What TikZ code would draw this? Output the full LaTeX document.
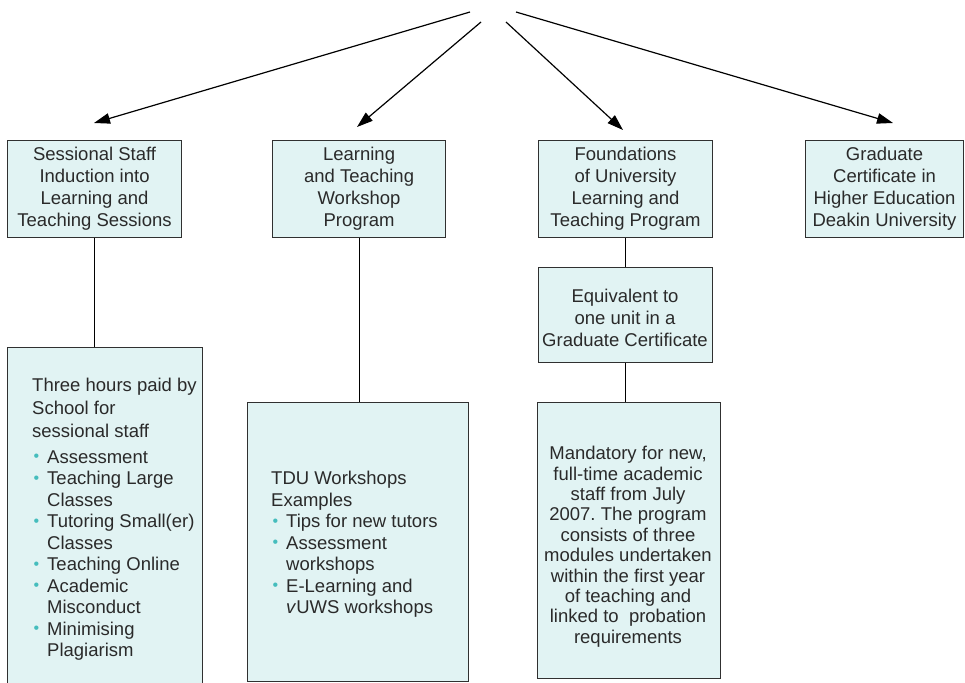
\documentclass[tikz,border=0pt]{standalone}
\usepackage{fontspec}
\setmainfont{Liberation Sans}
\usetikzlibrary{arrows.meta}
\definecolor{boxfill}{HTML}{E1F3F3}
\definecolor{boxline}{HTML}{303030}
\definecolor{txtc}{HTML}{2A2A2A}
\definecolor{bulc}{HTML}{45BDBD}
\frenchspacing
\newcommand\bul{\makebox[15pt][l]{\hspace{1.5pt}\textcolor{bulc}{\fontsize{16}{16}\selectfont\raisebox{1.2pt}{•}}}}
\newcommand\ind{\hspace*{15pt}}
\begin{document}
\begin{tikzpicture}[x=1pt,y=-1pt,
  box/.style={draw=boxline, fill=boxfill, line width=1.1pt, anchor=north west, inner sep=0pt,
    text=txtc, align=center, font=\fontsize{18.5}{22}\selectfont},
  txt/.style={inner sep=0pt, text=txtc, font=\fontsize{18.5}{21.5}\selectfont},
  arr/.style={line width=1.2pt, -{Triangle[length=16pt,width=10.5pt]}},
  conn/.style={line width=1pt, draw=black}]
\useasboundingbox (0,0) rectangle (965,682);
% top boxes
\node[box, minimum width=174pt, minimum height=97pt] (b1) at (7,140)
  {Sessional Staff\\Induction into\\Learning and\\Teaching Sessions};
\node[box, minimum width=173pt, minimum height=97pt] (b2) at (272,140)
  {Learning\\and Teaching\\Workshop\\Program};
\node[box, minimum width=174pt, minimum height=97pt] (b3) at (538,140)
  {Foundations\\of University\\Learning and\\Teaching Program};
\node[box, minimum width=158pt, minimum height=97pt] (b4) at (805,140)
  {Graduate\\Certificate in\\Higher Education\\Deakin University};
% equivalent box
\node[box, minimum width=174pt, minimum height=95pt] (eq) at (538,267) {};
\node[txt, align=center, anchor=north, font=\fontsize{18.5}{22}\selectfont] (eqt) at (625,289)
  {Equivalent to\\one unit in a\\Graduate Certificate};
% lower boxes
\node[box, minimum width=195pt, minimum height=350pt] (l1) at (7,347) {};
\node[box, minimum width=221pt, minimum height=279pt] (l2) at (247,402) {};
\node[box, minimum width=183pt, minimum height=276pt] (l3) at (537,402) {};
\node[txt, align=left, anchor=north west] (l1t) at (32,378)
  {Three hours paid by\\[1.5pt]
   School for\\[1.5pt]
   sessional staff\\[4pt]
   \bul Assessment\\
   \bul Teaching Large\\
   \ind Classes\\
   \bul Tutoring Small(er)\\
   \ind Classes\\
   \bul Teaching Online\\
   \bul Academic\\
   \ind Misconduct\\
   \bul Minimising\\
   \ind Plagiarism};
\node[txt, align=left, anchor=north west] (l2t) at (271,471)
  {TDU Workshops\\
   Examples\\
   \bul Tips for new tutors\\
   \bul Assessment\\
   \ind workshops\\
   \bul E-Learning and\\
   \ind \textit{v}UWS workshops};
\node[txt, align=center, anchor=north, font=\fontsize{18.5}{20.4}\selectfont] (l3t) at (628,446)
  {Mandatory for new,\\
   full-time academic\\
   staff from July\\
   2007. The program\\
   consists of three\\
   modules undertaken\\
   within the first year\\
   of teaching and\\
   linked to\ \ probation\\
   requirements};
% connectors
\draw[conn] (b1.south) -- (b1.south |- l1.north);
\draw[conn] (b2.south) -- (b2.south |- l2.north);
\draw[conn] (b3.south) -- (eq.north);
\draw[conn] (eq.south) -- (eq.south |- l3.north);
% arrows
\coordinate (s1) at (470,12);
\coordinate (s2) at (481,22);
\coordinate (s3) at (506,22);
\coordinate (s4) at (516,12);
\coordinate (e1) at (94,123);
\coordinate (e2) at (357,127);
\coordinate (e3) at (623,130);
\coordinate (e4) at (893,123);
\draw[arr] (s1) -- (e1);
\draw[arr] (s2) -- (e2);
\draw[arr] (s3) -- (e3);
\draw[arr] (s4) -- (e4);
\end{tikzpicture}
\end{document}
